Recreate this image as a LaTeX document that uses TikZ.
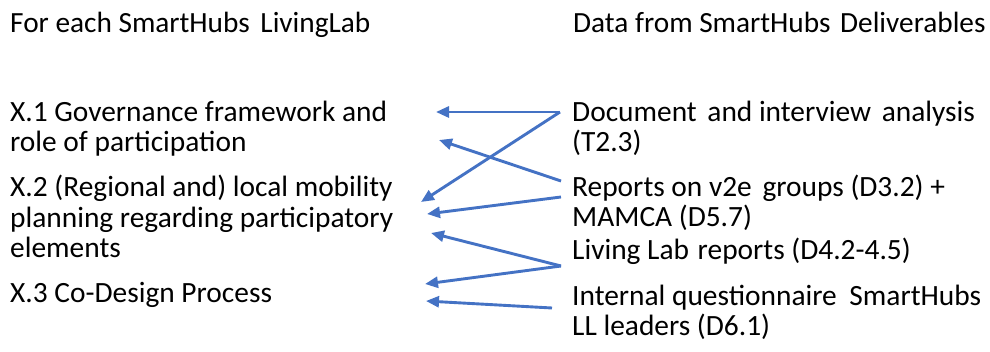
\documentclass[tikz,border=0pt]{standalone}
\usepackage{fontspec}
\setmainfont{Carlito}
\usetikzlibrary{arrows.meta}
\definecolor{linkblue}{HTML}{4472C4}
\begin{document}
\begin{tikzpicture}[x=1pt,y=-1pt,
  head/.style={anchor=base west,inner sep=0pt,font=\fontsize{29.3}{30}\selectfont},
  item/.style={anchor=base west,inner sep=0pt,align=left,font=\fontsize{29.4}{30.8}\selectfont},
  link/.style={draw=linkblue,line width=2.9pt,-{Triangle[length=13pt,width=11pt]}}]
\useasboundingbox (0,0) rectangle (990,352);

% column headers
\node[head] (lefthead) at (10,33) {For each SmartHubs\hspace{4pt} LivingLab};
\node[head] (righthead) at (573,33) {Data from SmartHubs\hspace{3pt} Deliverables};

% living-lab topics (anchored at the baseline of their last line)
\node[item] (x1) at (10,152) {X.1 Governance framework and\\role of participation};
\node[item] (x2) at (10,258) {X.2 (Regional and) local mobility\\planning regarding participatory\\elements};
\node[item] (x3) at (10,303) {X.3 Co-Design Process};

% deliverable sources
\node[item] (doc) at (572,152) {Document\hspace{4pt} and interview\hspace{4pt} analysis\\(T2.3)};
\node[item] (rep) at (572,227) {Reports on v2e\hspace{4pt} groups (D3.2) +\\MAMCA (D5.7)};
\node[item] (ll) at (572,260) {Living Lab\hspace{2pt} reports (D4.2-4.5)};
\node[item] (quest) at (572,336) {Internal questionnaire\hspace{6pt} SmartHubs\\LL leaders (D6.1)};

% connector end points
\coordinate (s1) at (560,112);
\coordinate (s2) at (561,181);
\coordinate (s3) at (561,197);
\coordinate (s4) at (561,266);
\coordinate (s5) at (552,308);
\coordinate (e1) at (436,112);
\coordinate (e2) at (439,140);
\coordinate (e3) at (421,202);
\coordinate (e4) at (427,214);
\coordinate (e5) at (431,233);
\coordinate (e6) at (425,284);
\coordinate (e7) at (426,301);

\draw[link] (s1) -- (e1);
\draw[link] (s2) -- (e2);
\draw[link] (s1) -- (e3);
\draw[link] (s3) -- (e4);
\draw[link] (s4) -- (e5);
\draw[link] (s4) -- (e6);
\draw[link] (s5) -- (e7);
\end{tikzpicture}
\end{document}
